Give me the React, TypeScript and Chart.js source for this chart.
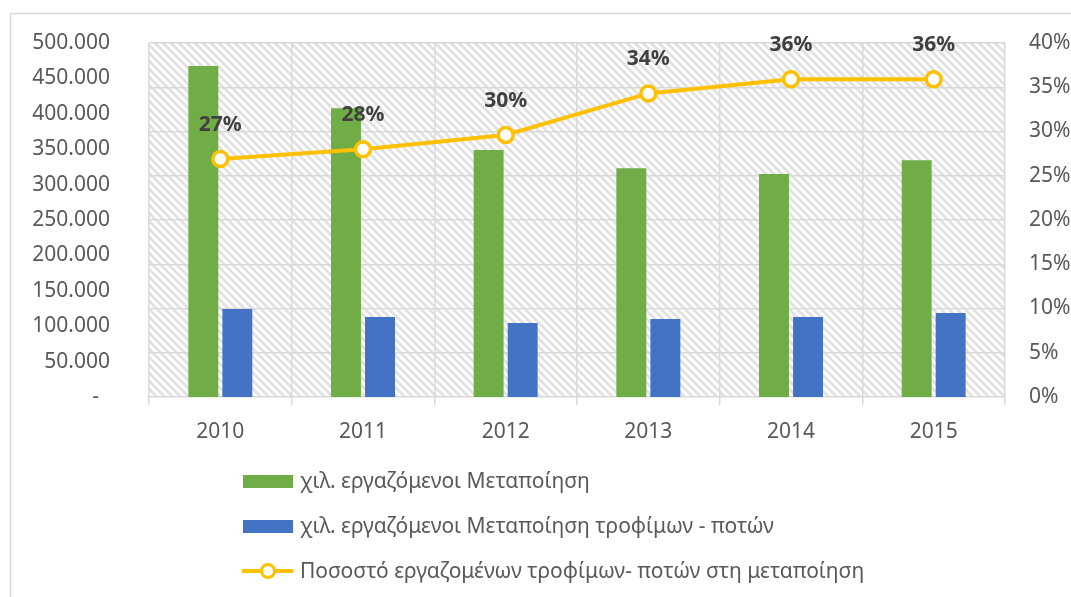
import React, { useEffect, useRef } from "react";
import { Chart, registerables } from "chart.js";

Chart.register(...registerables);

const years = ["2010", "2011", "2012", "2013", "2014", "2015"];
const manufacturing = [467500, 408000, 349000, 323000, 315000, 334500];
const foodBeverage = [124300, 113000, 104500, 110000, 113000, 118500];
const sharePct = [0.269, 0.28, 0.296, 0.343, 0.359, 0.359];

const seriesLabels = [
  "χιλ. εργαζόμενοι Μεταποίηση",
  "χιλ. εργαζόμενοι Μεταποίηση τροφίμων - ποτών",
  "Ποσοστό εργαζομένων τροφίμων- ποτών στη μεταποίηση",
];

const GREEN = "#70AD47";
const BLUE = "#4472C4";
const GOLD = "#FFC000";
const TEXT = "#595959";
const GRID = "#D9D9D9";
const FONT = "'Noto Sans', sans-serif";

function fmtThousands(v: number): string {
  if (v === 0) return "-  ";
  const s = Math.round(v).toString();
  return s.replace(/\B(?=(\d{3})+(?!\d))/g, ".");
}

function makePattern(ctx: CanvasRenderingContext2D) {
  const c = document.createElement("canvas");
  c.width = 8;
  c.height = 8;
  const p = c.getContext("2d")!;
  p.fillStyle = "#ffffff";
  p.fillRect(0, 0, 8, 8);
  p.strokeStyle = "#E1E1E1";
  p.lineWidth = 2.8;
  for (let k = -1; k <= 1; k++) {
    p.beginPath();
    p.moveTo(k * 8 - 1, -1);
    p.lineTo(k * 8 + 9, 9);
    p.stroke();
  }
  return ctx.createPattern(c, "repeat");
}

const decorPlugin = {
  id: "decor",
  beforeDraw(chart: any) {
    const { ctx, chartArea } = chart;
    ctx.save();
    ctx.strokeStyle = GRID;
    ctx.lineWidth = 1.5;
    ctx.beginPath();
    ctx.moveTo(10.5, 600);
    ctx.lineTo(10.5, 13.5);
    ctx.lineTo(1080, 13.5);
    ctx.stroke();
    const pat = makePattern(ctx);
    if (pat) {
      ctx.fillStyle = pat;
      ctx.fillRect(chartArea.left, chartArea.top, chartArea.right - chartArea.left, chartArea.bottom - chartArea.top);
    }
    ctx.restore();
  },
  afterDraw(chart: any) {
    const { ctx } = chart;
    ctx.save();
    const meta = chart.getDatasetMeta(2);
    ctx.font = `bold 21px ${FONT}`;
    ctx.fillStyle = "#404040";
    ctx.textAlign = "center";
    ctx.textBaseline = "middle";
    meta.data.forEach((pt: any, i: number) => {
      ctx.fillText(Math.round(sharePct[i] * 100) + "%", pt.x, pt.y - 34);
    });
    ctx.font = `21px ${FONT}`;
    ctx.textAlign = "left";
    ctx.fillStyle = GREEN;
    ctx.fillRect(243, 475, 50, 13);
    ctx.fillStyle = BLUE;
    ctx.fillRect(243, 520, 50, 13);
    ctx.strokeStyle = GOLD;
    ctx.lineWidth = 4;
    ctx.beginPath();
    ctx.moveTo(242, 571);
    ctx.lineTo(293, 571);
    ctx.stroke();
    ctx.beginPath();
    ctx.arc(268, 571, 6.5, 0, Math.PI * 2);
    ctx.fillStyle = "#ffffff";
    ctx.fill();
    ctx.lineWidth = 3;
    ctx.stroke();
    ctx.fillStyle = TEXT;
    ctx.fillText(seriesLabels[0], 300, 482);
    ctx.fillText(seriesLabels[1], 300, 527);
    ctx.fillText(seriesLabels[2], 300, 572);
    ctx.restore();
  },
};

export default function App() {
  const ref = useRef<HTMLCanvasElement | null>(null);
  useEffect(() => {
    if (!ref.current) return;
    const chart = new Chart(ref.current, {
      type: "bar",
      data: {
        labels: years,
        datasets: [
          {
            type: "bar",
            label: seriesLabels[0],
            data: manufacturing,
            backgroundColor: GREEN,
            yAxisID: "y",
            order: 1,
            categoryPercentage: 0.477,
            barPercentage: 0.88,
          },
          {
            type: "bar",
            label: seriesLabels[1],
            data: foodBeverage,
            backgroundColor: BLUE,
            yAxisID: "y",
            order: 1,
            categoryPercentage: 0.477,
            barPercentage: 0.88,
          },
          {
            type: "line",
            label: seriesLabels[2],
            data: sharePct,
            borderColor: GOLD,
            borderWidth: 4,
            pointRadius: 7.5,
            pointBorderWidth: 3.5,
            pointBackgroundColor: "#ffffff",
            pointBorderColor: GOLD,
            yAxisID: "y1",
            order: 0,
            tension: 0,
          },
        ],
      } as any,
      options: {
        responsive: false,
        animation: false,
        layout: { padding: { left: 10, top: 43, right: 0, bottom: 0 } },
        plugins: { legend: { display: false }, tooltip: { enabled: false } },
        scales: {
          x: {
            offset: true,
            grid: { display: true, offset: true, color: GRID, lineWidth: 1.5, drawTicks: true, tickLength: 8 },
            border: { display: false },
            ticks: { color: TEXT, font: { family: FONT, size: 21 }, padding: 14, maxRotation: 0 },
            afterFit: (s: any) => {
              s.height = 200;
            },
          },
          y: {
            position: "left",
            min: 0,
            max: 500000,
            grid: { display: false, drawTicks: false },
            border: { display: false },
            ticks: {
              stepSize: 50000,
              color: TEXT,
              font: { family: FONT, size: 21 },
              padding: 39,
              callback: (v: any) => fmtThousands(Number(v)),
            },
            afterFit: (s: any) => {
              s.width = 139;
              s.paddingTop = 0;
              s.paddingBottom = 0;
            },
          },
          y1: {
            position: "right",
            min: 0,
            max: 0.4,
            grid: { display: true, color: GRID, lineWidth: 1.5, drawTicks: false },
            border: { display: false },
            ticks: {
              stepSize: 0.05,
              color: TEXT,
              font: { family: FONT, size: 21 },
              padding: 24,
              callback: (v: any) => Math.round(Number(v) * 100) + "%",
            },
            afterFit: (s: any) => {
              s.width = 66;
              s.paddingTop = 0;
              s.paddingBottom = 0;
            },
          },
        },
      } as any,
      plugins: [decorPlugin],
    });
    return () => chart.destroy();
  }, []);
  return (
    <div style={{ position: "fixed", left: 0, top: 0, width: 1071, height: 597, background: "#fff" }}>
      <canvas ref={ref} width={1071} height={597} style={{ display: "block" }} />
    </div>
  );
}
